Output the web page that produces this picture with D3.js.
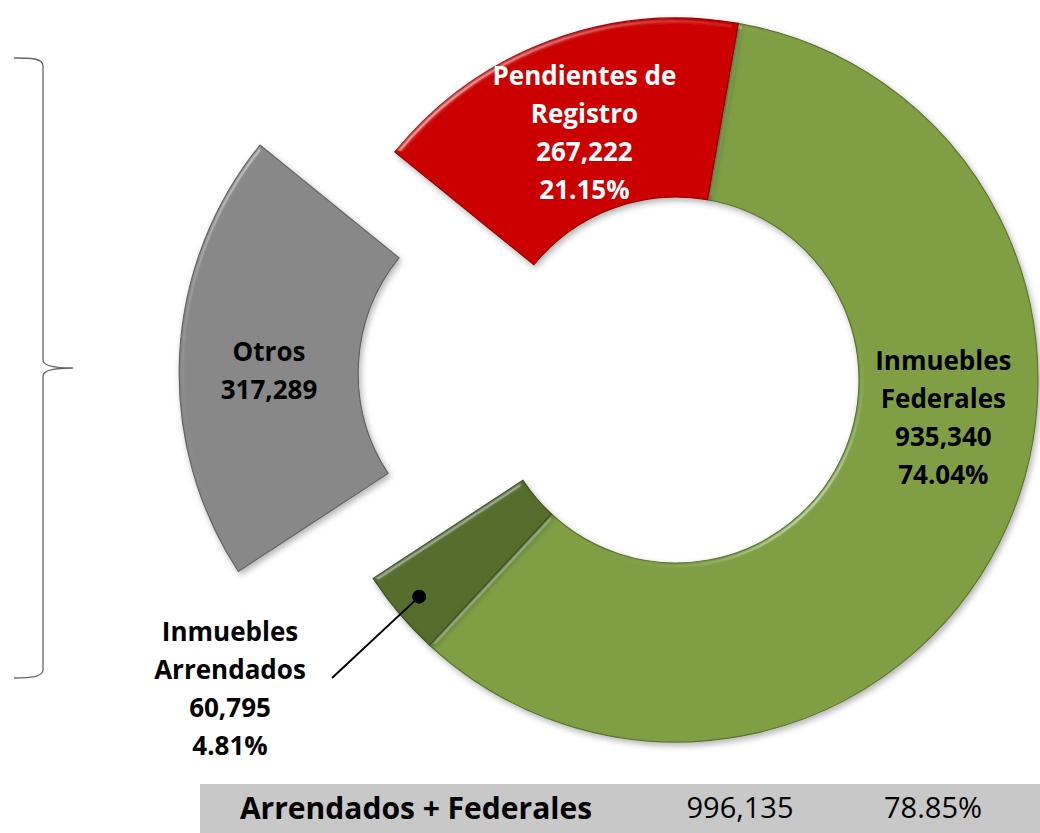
<!DOCTYPE html>
<html>
<head>
<meta charset="utf-8">
<script src="https://d3js.org/d3.v7.min.js"></script>
<style>
  body { margin: 0; background: #fff; }
  svg { display: block; }
  text { font-family: "Open Sans", "Noto Sans", sans-serif; }
</style>
</head>
<body>
<svg id="chart" width="1040" height="833"></svg>
<script>
// data
const categories = ["Inmuebles Federales", "Inmuebles Arrendados", "Otros", "Pendientes de Registro"]
const values = [935340, 60795, 317289, 267222]
const percents = ["74.04%", "4.81%", "", "21.15%"]
const colors = ["#7f9f43", "#566d2c", "#888888", "#cc0000"]
const labelLines = [
    ["Inmuebles", "Federales", "935,340", "74.04%"],
    ["Inmuebles", "Arrendados", "60,795", "4.81%"],
    ["Otros", "317,289"],
    ["Pendientes de", "Registro", "267,222", "21.15%"]
]
const totalRow = ["Arrendados + Federales", "996,135", "78.85%"]

const svg = d3.select("#chart")
const cx = 676, cy = 380
const R = 362, r0 = 183
const explode = [0, 0, 135, 0]

// filters: bevel + shadow
const defs = svg.append("defs")
const bev = defs.append("filter").attr("id", "bevel")
    .attr("x", "-10%").attr("y", "-10%").attr("width", "120%").attr("height", "120%")
bev.append("feGaussianBlur").attr("in", "SourceAlpha").attr("stdDeviation", 2.5).attr("result", "blur")
bev.append("feSpecularLighting").attr("in", "blur").attr("surfaceScale", 4)
    .attr("specularConstant", 0.7).attr("specularExponent", 35)
    .attr("lighting-color", "#ffffff").attr("result", "spec")
    .append("feDistantLight").attr("azimuth", 225).attr("elevation", 30)
bev.append("feComposite").attr("in", "spec").attr("in2", "SourceAlpha").attr("operator", "in").attr("result", "specIn")
bev.append("feComposite").attr("in", "SourceGraphic").attr("in2", "specIn")
    .attr("operator", "arithmetic").attr("k1", 0).attr("k2", 1).attr("k3", 0.45).attr("k4", 0).attr("result", "lit")
bev.append("feDropShadow").attr("in", "lit").attr("dx", 2).attr("dy", 3).attr("stdDeviation", 3)
    .attr("flood-color", "#000").attr("flood-opacity", 0.3)

const pie = d3.pie().sort(null).value(d => d)
    .startAngle(9.9 * Math.PI / 180).endAngle(9.9 * Math.PI / 180 + 2 * Math.PI)
const arcs = pie(values)
const arc = d3.arc().innerRadius(r0).outerRadius(R)

const g = svg.append("g").attr("transform", `translate(${cx},${cy})`)

g.selectAll("path.slice").data(arcs).enter().append("path")
    .attr("class", "slice")
    .attr("d", arc)
    .attr("fill", (d, i) => colors[i])
    .attr("stroke", (d, i) => d3.color(colors[i]).darker(0.9))
    .attr("stroke-width", 1.2)
    .attr("filter", "url(#bevel)")
    .attr("transform", (d, i) => {
        const a = (d.startAngle + d.endAngle) / 2
        return `translate(${Math.sin(a) * explode[i]},${-Math.cos(a) * explode[i]})`
    })

// labels
function drawLabel(x, y, lines, fill) {
    const t = svg.append("text")
        .attr("x", x).attr("text-anchor", "middle")
        .attr("font-size", 26).attr("font-weight", "bold").attr("fill", fill)
    const lh = 38
    const y0 = y - (lines.length - 1) * lh / 2
    lines.forEach((l, k) => {
        t.append("tspan").attr("x", x).attr("y", y0 + k * lh).attr("dy", "0.35em").text(l)
    })
}

// pendientes: centroid
let c = arc.centroid(arcs[3])
drawLabel(cx + c[0] + 4, cy + c[1] + 8, labelLines[3], "#fff")
// otros: centroid + explode
const aO = (arcs[2].startAngle + arcs[2].endAngle) / 2
c = arc.centroid(arcs[2])
drawLabel(cx + c[0] + Math.sin(aO) * explode[2], cy + c[1] - Math.cos(aO) * explode[2] + 12, labelLines[2], "#000")
// federales: inside ring at 98 deg
const aF = 98 * Math.PI / 180
drawLabel(cx + Math.sin(aF) * 270, cy - Math.cos(aF) * 270, labelLines[0], "#000")
// arrendados: outside label with leader
const aA = (arcs[1].startAngle + arcs[1].endAngle) / 2
const dot = [cx + Math.sin(aA) * 336, cy - Math.cos(aA) * 336]
svg.append("line").attr("x1", dot[0]).attr("y1", dot[1]).attr("x2", 332).attr("y2", 678)
    .attr("stroke", "#000").attr("stroke-width", 2)
svg.append("circle").attr("cx", dot[0]).attr("cy", dot[1]).attr("r", 7).attr("fill", "#000")
drawLabel(230, 689, labelLines[1], "#000")

// brace
const brace = d3.path()
brace.moveTo(14, 58)
brace.bezierCurveTo(30, 58, 43, 58, 43, 66)
brace.lineTo(43, 360)
brace.bezierCurveTo(43, 366, 55, 368, 73, 368)
brace.bezierCurveTo(55, 368, 43, 370, 43, 376)
brace.lineTo(43, 670)
brace.bezierCurveTo(43, 677, 30, 678, 14, 678)
svg.append("path").attr("d", brace.toString())
    .attr("fill", "none").attr("stroke", "#666").attr("stroke-width", 1.3)

// total row
svg.append("rect").attr("x", 200).attr("y", 784).attr("width", 840).attr("height", 49).attr("fill", "#c8c8c8")
const rowX = [416, 740, 933]
totalRow.forEach((s, i) => {
    svg.append("text").attr("x", rowX[i]).attr("y", 808).attr("dy", "0.35em")
        .attr("text-anchor", "middle").attr("font-size", i === 0 ? 30 : 29)
        .attr("font-weight", i === 0 ? "bold" : "normal").attr("fill", "#000").text(s)
})
</script>
</body>
</html>
